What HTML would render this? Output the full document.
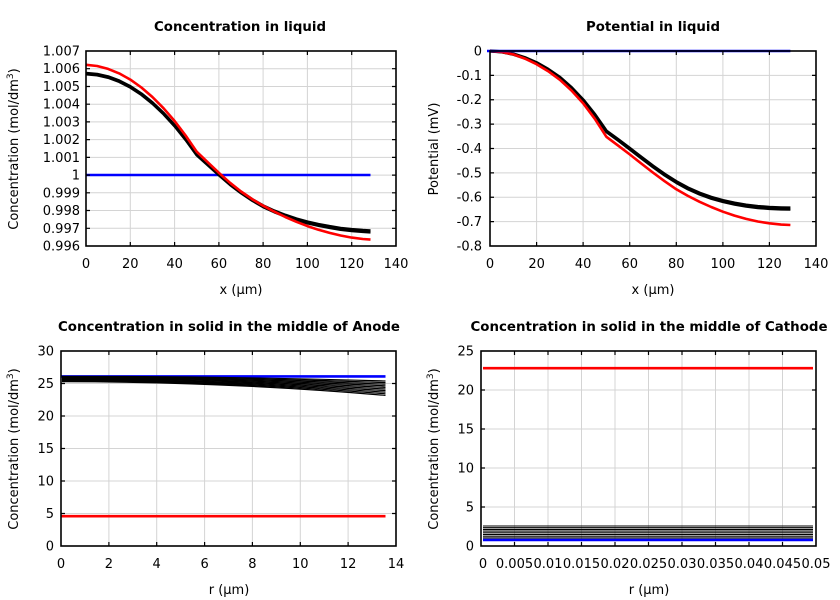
<!DOCTYPE html>
<html><head><meta charset="utf-8"><style>
html,body{margin:0;padding:0;background:#fff;}
svg{display:block;}
text{font-family:"DejaVu Sans","Liberation Sans",sans-serif;font-size:13px;fill:#000;}
.t{font-weight:bold;}
.g{stroke:#d4d4d4;stroke-width:1;fill:none;}
.k{stroke:#000;stroke-width:1.2;fill:none;}
.b{stroke:#000;stroke-width:1.6;fill:none;}
</style></head><body>
<svg width="840" height="600" viewBox="0 0 840 600" xmlns="http://www.w3.org/2000/svg">
<rect width="840" height="600" fill="#fff"/>

<!-- ============ TOP LEFT ============ -->
<text class="t" x="240" y="31" text-anchor="middle" textLength="172" lengthAdjust="spacingAndGlyphs">Concentration in liquid</text>
<path class="g" d="M130.3 51V246M174.6 51V246M218.9 51V246M263.1 51V246M307.4 51V246M351.7 51V246
M86 68.7H396M86 86.5H396M86 104.2H396M86 121.9H396M86 139.6H396M86 157.4H396M86 175.1H396M86 192.8H396M86 210.5H396M86 228.3H396"/>
<g fill="none" stroke-linejoin="round" stroke-linecap="butt">
<polyline stroke="#0000ff" stroke-width="2.6" points="86,175 370.5,175"/>
<polyline stroke="#000" stroke-width="3.2" points="86,73.3 97.1,74.3 108.1,76.8 119.2,80.9 130.3,86.6 141.4,93.9 152.4,102.8 163.5,113.3 174.6,125.4 185.6,139.1 196.7,154.4 207.8,164.3 218.9,174.3 229.9,183.7 241,192.1 252.1,199.5 263.1,205.8 274.2,210.9 285.3,215.2 296.4,218.9 307.4,221.9 318.5,224.4 329.6,226.5 340.6,228.3 351.7,229.5 362.8,230.4 370.5,230.8"/>
<polyline stroke="#000" stroke-width="2.4" points="86,74.3 97.1,75.3 108.1,77.8 119.2,81.9 130.3,87.6 141.4,94.9 152.4,103.8 163.5,114.3 174.6,126.4 185.6,140.1 196.7,155.4 207.8,165.4 218.9,175.4 229.9,184.9 241,193.3 252.1,200.7 263.1,207.1 274.2,212.2 285.3,216.5 296.4,220.3 307.4,223.3 318.5,225.8 329.6,227.9 340.6,229.8 351.7,231 362.8,231.9 370.5,232.4"/>
<polyline stroke="#ff0000" stroke-width="2.6" points="86,64.8 97.1,66.0 108.1,68.9 119.2,73.4 130.3,79.6 141.4,87.5 152.4,97.0 163.5,108.2 174.6,121.0 185.6,135.5 196.7,151.7 207.8,162.3 218.9,172.8 229.9,182.7 241,191.5 252.1,199.1 263.1,205.7 274.2,211.6 285.3,217.0 296.4,221.8 307.4,226.1 318.5,229.8 329.6,232.9 340.6,235.5 351.7,237.6 362.8,239.0 370.5,239.6"/>
</g>
<path class="k" d="M130.3 246v-4M174.6 246v-4M218.9 246v-4M263.1 246v-4M307.4 246v-4M351.7 246v-4
M130.3 51v4M174.6 51v4M218.9 51v4M263.1 51v4M307.4 51v4M351.7 51v4
M86 68.7h4M86 86.5h4M86 104.2h4M86 121.9h4M86 139.6h4M86 157.4h4M86 175.1h4M86 192.8h4M86 210.5h4M86 228.3h4
M396 68.7h-4M396 86.5h-4M396 104.2h-4M396 121.9h-4M396 139.6h-4M396 157.4h-4M396 175.1h-4M396 192.8h-4M396 210.5h-4M396 228.3h-4"/>
<rect class="b" x="86" y="51" width="310" height="195"/>
<g text-anchor="end">
<text x="80" y="55.5">1.007</text><text x="80" y="73.2">1.006</text><text x="80" y="91">1.005</text><text x="80" y="108.7">1.004</text>
<text x="80" y="126.4">1.003</text><text x="80" y="144.1">1.002</text><text x="80" y="161.9">1.001</text><text x="80" y="179.6">1</text>
<text x="80" y="197.3">0.999</text><text x="80" y="215">0.998</text><text x="80" y="232.8">0.997</text><text x="80" y="250.5">0.996</text>
</g>
<g text-anchor="middle">
<text x="86" y="268">0</text><text x="130.3" y="268">20</text><text x="174.6" y="268">40</text><text x="218.9" y="268">60</text>
<text x="263.1" y="268">80</text><text x="307.4" y="268">100</text><text x="351.7" y="268">120</text><text x="396" y="268">140</text>
<text x="241" y="294">x (μm)</text>
</g>
<text transform="translate(18,149) rotate(-90)" text-anchor="middle">Concentration (mol/dm<tspan font-size="9" dy="-5">3</tspan><tspan dy="5">)</tspan></text>

<!-- ============ TOP RIGHT ============ -->
<text class="t" x="653" y="31" text-anchor="middle" textLength="134" lengthAdjust="spacingAndGlyphs">Potential in liquid</text>
<path class="g" d="M536.6 51V246M583.1 51V246M629.7 51V246M676.3 51V246M722.9 51V246M769.4 51V246
M490 75.4H816M490 99.75H816M490 124.1H816M490 148.5H816M490 172.9H816M490 197.25H816M490 221.6H816"/>
<g fill="none" stroke-linejoin="round">
<polyline stroke="#000" stroke-width="3.2" points="490,51 501.6,51.7 513.3,53.9 524.9,57.6 536.6,62.7 548.2,69.3 559.9,77.3 571.5,87.6 583.1,99.8 594.8,114.4 606.4,131 618.1,139.5 629.7,148.3 641.4,157.3 653,166 664.6,174.2 676.3,181.6 687.9,187.9 699.6,193.1 711.2,197.3 722.9,200.5 734.5,203.1 746.1,205.1 757.8,206.5 769.4,207.3 781.1,207.8 790.4,208"/>
<polyline stroke="#000" stroke-width="2.2" points="490,51.5 501.6,52.4 513.3,54.8 524.9,58.6 536.6,63.8 548.2,70.5 559.9,78.5 571.5,88.8 583.1,101 594.8,115.6 606.4,132.2 618.1,140.8 629.7,149.6 641.4,158.6 653,167.4 664.6,175.6 676.3,183 687.9,189.4 699.6,194.6 711.2,198.8 722.9,202.1 734.5,204.7 746.1,206.7 757.8,208.1 769.4,209 781.1,209.5 790.4,209.7"/>
<polyline stroke="#ff0000" stroke-width="2.6" points="490,51 501.6,52 513.3,54.4 524.9,58.6 536.6,64.2 548.2,71.2 559.9,79.8 571.5,90.5 583.1,103.2 594.8,118.8 606.4,136.8 618.1,145.6 629.7,154.4 641.4,163.6 653,172.6 664.6,181.2 676.3,189.3 687.9,195.9 699.6,201.8 711.2,207.0 722.9,211.7 734.5,215.6 746.1,218.9 757.8,221.5 769.4,223.3 781.1,224.6 790.4,225.0"/>
<polyline stroke="#0000ff" stroke-width="2.6" points="487,51 790.4,51"/>
</g>
<path class="k" d="M536.6 246v-4M583.1 246v-4M629.7 246v-4M676.3 246v-4M722.9 246v-4M769.4 246v-4
M536.6 51v4M583.1 51v4M629.7 51v4M676.3 51v4M722.9 51v4M769.4 51v4
M490 75.4h4M490 99.75h4M490 124.1h4M490 148.5h4M490 172.9h4M490 197.25h4M490 221.6h4
M816 75.4h-4M816 99.75h-4M816 124.1h-4M816 148.5h-4M816 172.9h-4M816 197.25h-4M816 221.6h-4"/>
<rect class="b" x="490" y="51" width="326" height="195"/>
<g text-anchor="end">
<text x="482" y="55.5">0</text><text x="482" y="79.9">-0.1</text><text x="482" y="104.2">-0.2</text><text x="482" y="128.6">-0.3</text>
<text x="482" y="153">-0.4</text><text x="482" y="177.4">-0.5</text><text x="482" y="201.7">-0.6</text><text x="482" y="226.1">-0.7</text><text x="482" y="250.5">-0.8</text>
</g>
<g text-anchor="middle">
<text x="490" y="268">0</text><text x="536.6" y="268">20</text><text x="583.1" y="268">40</text><text x="629.7" y="268">60</text>
<text x="676.3" y="268">80</text><text x="722.9" y="268">100</text><text x="769.4" y="268">120</text><text x="816" y="268">140</text>
<text x="653" y="294">x (μm)</text>
</g>
<text transform="translate(438,149) rotate(-90)" text-anchor="middle">Potential (mV)</text>

<!-- ============ BOTTOM LEFT ============ -->
<text class="t" x="229" y="331" text-anchor="middle" textLength="342" lengthAdjust="spacingAndGlyphs">Concentration in solid in the middle of Anode</text>
<path class="g" d="M108.9 351V546M156.7 351V546M204.6 351V546M252.4 351V546M300.3 351V546M348.1 351V546
M61 383.5H396M61 416H396M61 448.5H396M61 481H396M61 513.5H396"/>
<g fill="none">
<polyline stroke="#0000ff" stroke-width="2.6" points="61,376.4 385.5,376.4"/>
<g stroke="#000" stroke-width="1.2">
<path d="M62 376.3Q223.5 376.3 385.5 381"/>
<path d="M62 376.9Q223.5 376.9 385.5 382.6"/>
<path d="M62 377.5Q223.5 377.5 385.5 384.2"/>
<path d="M62 378.1Q223.5 378.1 385.5 385.8"/>
<path d="M62 378.7Q223.5 378.7 385.5 387.4"/>
<path d="M62 379.3Q223.5 379.3 385.5 389"/>
<path d="M62 379.9Q223.5 379.9 385.5 390.6"/>
<path d="M62 380.5Q223.5 380.5 385.5 392.2"/>
<path d="M62 381.1Q223.5 381.1 385.5 393.8"/>
<path d="M62 381.7Q223.5 381.7 385.5 395.4"/>
</g>
<polyline stroke="#ff0000" stroke-width="2.6" points="61,516.2 385.5,516.2"/>
</g>
<path class="k" d="M108.9 546v-4M156.7 546v-4M204.6 546v-4M252.4 546v-4M300.3 546v-4M348.1 546v-4
M108.9 351v4M156.7 351v4M204.6 351v4M252.4 351v4M300.3 351v4M348.1 351v4
M61 383.5h4M61 416h4M61 448.5h4M61 481h4M61 513.5h4
M396 383.5h-4M396 416h-4M396 448.5h-4M396 481h-4M396 513.5h-4"/>
<rect class="b" x="61" y="351" width="335" height="195"/>
<g text-anchor="end">
<text x="54" y="355.5">30</text><text x="54" y="388">25</text><text x="54" y="420.5">20</text><text x="54" y="453">15</text>
<text x="54" y="485.5">10</text><text x="54" y="518">5</text><text x="54" y="550.5">0</text>
</g>
<g text-anchor="middle">
<text x="61" y="568">0</text><text x="108.9" y="568">2</text><text x="156.7" y="568">4</text><text x="204.6" y="568">6</text>
<text x="252.4" y="568">8</text><text x="300.3" y="568">10</text><text x="348.1" y="568">12</text><text x="396" y="568">14</text>
<text x="229" y="594">r (μm)</text>
</g>
<text transform="translate(18,449) rotate(-90)" text-anchor="middle">Concentration (mol/dm<tspan font-size="9" dy="-5">3</tspan><tspan dy="5">)</tspan></text>

<!-- ============ BOTTOM RIGHT ============ -->
<text class="t" x="649" y="331" text-anchor="middle" textLength="357" lengthAdjust="spacingAndGlyphs">Concentration in solid in the middle of Cathode</text>
<path class="g" d="M514.5 351V546M548 351V546M581.5 351V546M615 351V546M648.5 351V546M682 351V546M715.5 351V546M749 351V546M782.5 351V546
M481 390H816M481 429H816M481 468H816M481 507H816"/>
<g fill="none">
<polyline stroke="#ff0000" stroke-width="2.6" points="483,368.2 813,368.2"/>
<g stroke="#000" stroke-width="1.1">
<path d="M483 526H813M483 527.7H813M483 529.4H813M483 531.1H813M483 532.8H813M483 534.5H813M483 536.2H813M483 537.9H813"/>
</g>
<polyline stroke="#0000ff" stroke-width="2.6" points="483,540 813,540"/>
</g>
<path class="k" d="M514.5 546v-4M548 546v-4M581.5 546v-4M615 546v-4M648.5 546v-4M682 546v-4M715.5 546v-4M749 546v-4M782.5 546v-4
M514.5 351v4M548 351v4M581.5 351v4M615 351v4M648.5 351v4M682 351v4M715.5 351v4M749 351v4M782.5 351v4
M481 390h4M481 429h4M481 468h4M481 507h4
M816 390h-4M816 429h-4M816 468h-4M816 507h-4"/>
<rect class="b" x="481" y="351" width="335" height="195"/>
<g text-anchor="end">
<text x="474" y="355.5">25</text><text x="474" y="394.5">20</text><text x="474" y="433.5">15</text>
<text x="474" y="472.5">10</text><text x="474" y="511.5">5</text><text x="474" y="550.5">0</text>
</g>
<g text-anchor="middle">
<text x="483" y="568">0</text><text x="514.5" y="568">0.005</text><text x="548" y="568">0.01</text><text x="581.5" y="568">0.015</text>
<text x="615" y="568">0.02</text><text x="648.5" y="568">0.025</text><text x="682" y="568">0.03</text><text x="715.5" y="568">0.035</text>
<text x="749" y="568">0.04</text><text x="782.5" y="568">0.045</text><text x="816" y="568">0.05</text>
<text x="649" y="594">r (μm)</text>
</g>
<text transform="translate(438,449) rotate(-90)" text-anchor="middle">Concentration (mol/dm<tspan font-size="9" dy="-5">3</tspan><tspan dy="5">)</tspan></text>
</svg>
</body></html>
